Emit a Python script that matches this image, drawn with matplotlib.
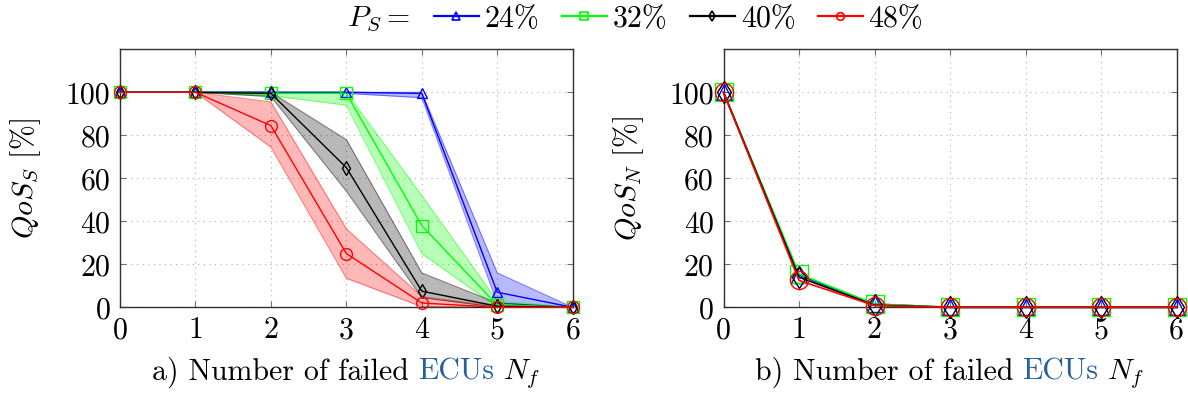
import numpy as np
import matplotlib
matplotlib.use("Agg")
import matplotlib.pyplot as plt
from matplotlib.lines import Line2D
from matplotlib.offsetbox import TextArea, HPacker, AnchoredOffsetbox

plt.rcParams['font.family'] = 'serif'
plt.rcParams['font.serif'] = ['cmr10']
plt.rcParams['mathtext.fontset'] = 'cm'
plt.rcParams['axes.unicode_minus'] = False
plt.rcParams['font.size'] = 21.5

# failed ECUs
n_failed = [0, 1, 2, 3, 4, 5, 6]

# QoS of safety-critical services (mean, lower, upper)
qs_24 = [100, 100, 100, 100, 99.5, 7, 0]
qs_24_lo = [100, 100, 100, 99.5, 97.5, 2, 0]
qs_24_hi = [100, 100, 100, 100, 100, 16, 0]

qs_32 = [100, 100, 99.5, 99.5, 38, 1, 0]
qs_32_lo = [100, 100, 98.5, 94, 25, 0, 0]
qs_32_hi = [100, 100, 100, 100, 52, 3, 0]

qs_40 = [100, 100, 99.5, 65, 7.5, 0.5, 0]
qs_40_lo = [100, 100, 98, 54, 4.5, 0, 0]
qs_40_hi = [100, 100, 100, 78, 16, 2, 0]

qs_48 = [100, 100, 84.5, 25, 2, 0, 0]
qs_48_lo = [100, 100, 74.5, 13.5, 0.3, 0, 0]
qs_48_hi = [100, 100, 95.5, 36.5, 5, 0.5, 0]

# QoS of non-critical services
qn_24 = [100, 15, 1.5, 0, 0, 0, 0]
qn_32 = [100, 15.5, 1.5, 0, 0, 0, 0]
qn_40 = [100, 14, 1, 0, 0, 0, 0]
qn_48 = [100, 12.5, 0.8, 0, 0, 0, 0]

share_labels = ['24%', '32%', '40%', '48%']
colors = ['#0000ff', '#00ff00', '#000000', '#ff0000']
markers = ['^', 's', 'd', 'o']
ms_small = [7.5, 8, 7, 8.5]
ms_big = [11.5, 13.5, 11.7, 13]

safety = [(qs_24, qs_24_lo, qs_24_hi), (qs_32, qs_32_lo, qs_32_hi),
          (qs_40, qs_40_lo, qs_40_hi), (qs_48, qs_48_lo, qs_48_hi)]
normal = [qn_24, qn_32, qn_40, qn_48]

fig = plt.figure(figsize=(11.88, 3.99), dpi=100)
ax1 = fig.add_axes([120 / 1188, 1 - 307.3 / 399, 452.7 / 1188, 258 / 399])
ax2 = fig.add_axes([723.5 / 1188, 1 - 307.3 / 399, 453 / 1188, 258 / 399])


def style_axes(ax):
    ax.set_xlim(0, 6)
    ax.set_ylim(0, 120)
    ax.set_xticks(n_failed)
    ax.set_yticks([0, 20, 40, 60, 80, 100])
    ax.grid(True, linestyle=(0, (1, 4)), color='#b0b0b0', linewidth=0.8)
    ax.set_axisbelow(True)
    ax.tick_params(direction='in', length=4, width=0.8, color='#707070',
                   top=True, right=True, pad=7)
    for sp in ax.spines.values():
        sp.set_color('#303030')
        sp.set_linewidth(1.0)


def xlabel_box(ax, prefix):
    parts = [TextArea(prefix + ') Number of failed', textprops=dict(color='black')),
             TextArea('ECUs', textprops=dict(color='#24609f')),
             TextArea('$N_f$', textprops=dict(color='black'))]
    box = HPacker(children=parts, align='baseline', pad=0, sep=6.5)
    anchored = AnchoredOffsetbox(loc='upper center', child=box, pad=0, borderpad=0,
                                 frameon=False, bbox_to_anchor=(0.5, -0.19),
                                 bbox_transform=ax.transAxes)
    ax.add_artist(anchored)


for (mean, lo, hi), c, m, ms in zip(safety, colors, markers, ms_small):
    ax1.fill_between(n_failed, lo, hi, color=c, alpha=0.28, linewidth=0)
    ax1.plot(n_failed, lo, color=c, alpha=0.45, linewidth=0.8)
    ax1.plot(n_failed, hi, color=c, alpha=0.45, linewidth=0.8)
    ax1.plot(n_failed, mean, color=c, marker=m, markersize=ms, fillstyle='none',
             markeredgewidth=1.0, linewidth=1.0, clip_on=False, zorder=3)

for vals, c, m, ms in zip(normal, colors, markers, ms_big):
    ax2.plot(n_failed, vals, color=c, marker=m, markersize=ms, fillstyle='none',
             markeredgewidth=1.0, linewidth=1.2, clip_on=False, zorder=3)

for ax, sub, lbl in [(ax1, 'a', '$QoS_S$ [%]'), (ax2, 'b', '$QoS_N$ [%]')]:
    style_axes(ax)
    ax.set_ylabel(lbl)
    ax.yaxis.set_label_coords(-0.17, 0.5)
    xlabel_box(ax, sub)

handles = [Line2D([], [], color=c, marker=m, markersize=5.5, fillstyle='none',
                  markeredgewidth=1.2, linewidth=1.6)
           for c, m in zip(colors, markers)]
fig.text(347 / 1188, 1 - 19 / 399, '$P_S =$', ha='left', va='center')
fig.legend(handles, share_labels, loc='center left', ncol=4, frameon=False,
           bbox_to_anchor=(434 / 1188, 1 - 19 / 399), handlelength=1.5,
           handletextpad=0.2, columnspacing=0.75, borderpad=0, borderaxespad=0)

fig.savefig('out.png', dpi=100)
